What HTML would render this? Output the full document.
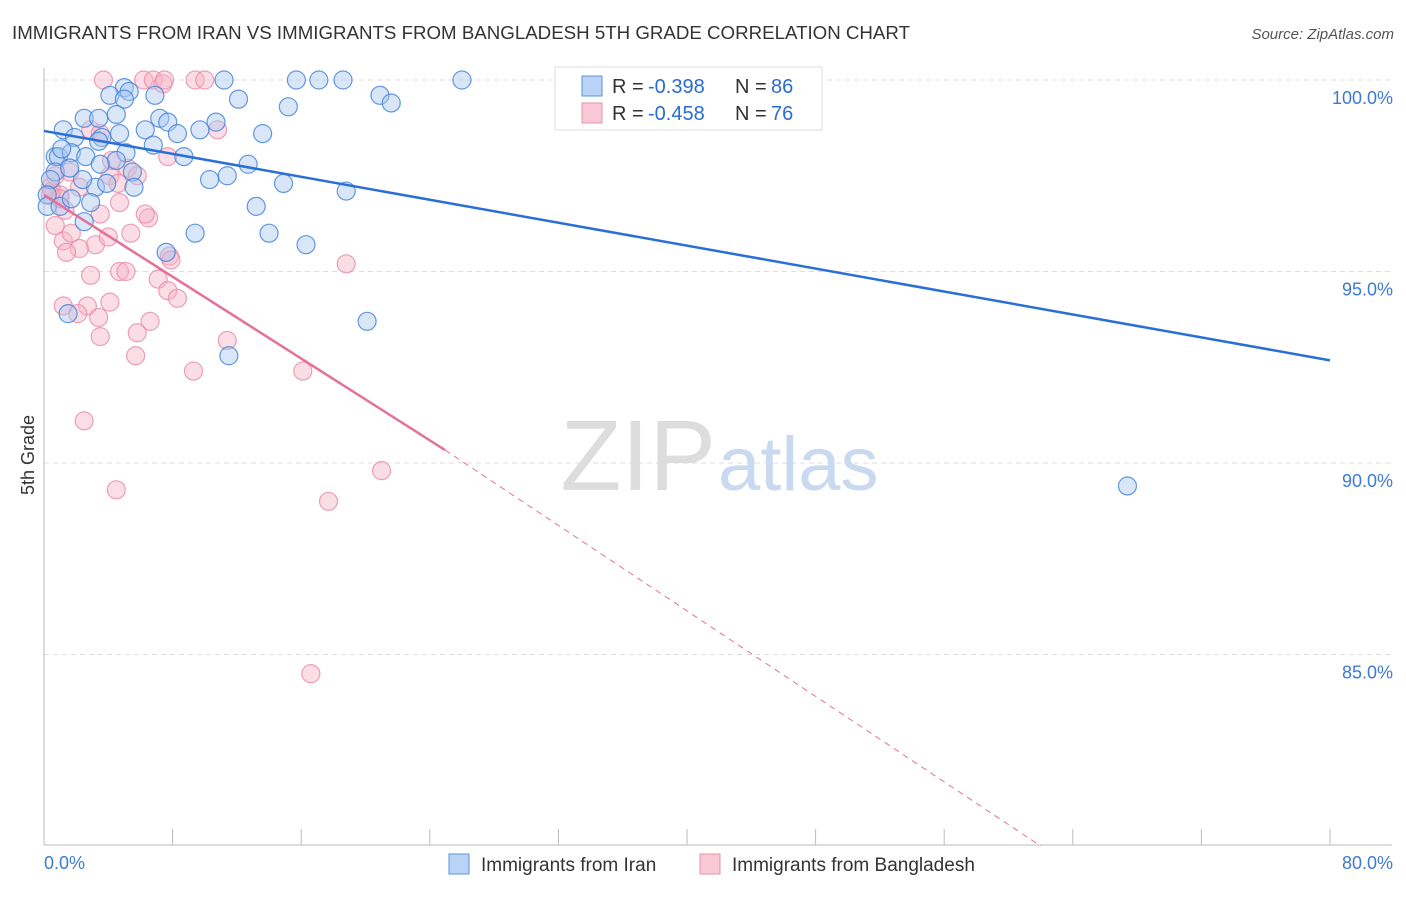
<!DOCTYPE html>
<html><head><meta charset="utf-8"><style>
body{margin:0;background:#fff;font-family:"Liberation Sans",sans-serif;}
svg text{font-family:"Liberation Sans",sans-serif;}
</style></head><body>
<svg width="1406" height="892" viewBox="0 0 1406 892">
<text x="12" y="39" font-size="18" fill="#333" textLength="898" lengthAdjust="spacingAndGlyphs">IMMIGRANTS FROM IRAN VS IMMIGRANTS FROM BANGLADESH 5TH GRADE CORRELATION CHART</text>
<text x="1394" y="39" font-size="15" fill="#555" text-anchor="end" font-style="italic">Source: ZipAtlas.com</text>
<g id="grid"></g>
<g id="axes"></g>
<text x="716" y="490" font-size="100" fill="#ddd" text-anchor="end" font-family="Liberation Serif">ZIP</text>
<text x="718" y="490" font-size="76" fill="#c9d9ef">atlas</text>
<g id="pts"></g>
<g id="trend"></g>
<text x="34" y="455" font-size="18" fill="#333" text-anchor="middle" transform="rotate(-90 34 455)">5th Grade</text>
<g>
<rect x="555" y="67" width="267" height="63" fill="#fff" stroke="#ddd"/>
<rect x="582" y="76" width="20" height="20" fill="#b8d3f5" stroke="#5b93dc"/>
<rect x="582" y="103" width="20" height="20" fill="#f9c8d6" stroke="#ea8fab"/>
<text x="612" y="93" font-size="20" fill="#333">R =</text><text x="648" y="93" font-size="20" fill="#2a6bd1">-0.398</text>
<text x="735" y="93" font-size="20" fill="#333">N =</text><text x="771" y="93" font-size="20" fill="#2a6bd1">86</text>
<text x="612" y="120" font-size="20" fill="#333">R =</text><text x="648" y="120" font-size="20" fill="#2a6bd1">-0.458</text>
<text x="735" y="120" font-size="20" fill="#333">N =</text><text x="771" y="120" font-size="20" fill="#2a6bd1">76</text>
</g>
<g>
<rect x="449" y="854" width="20" height="20" fill="#b8d3f5" stroke="#5b93dc"/>
<text x="481" y="871" font-size="19" fill="#333">Immigrants from Iran</text>
<rect x="700" y="854" width="20" height="20" fill="#f9c8d6" stroke="#ea8fab"/>
<text x="732" y="871" font-size="19" fill="#333">Immigrants from Bangladesh</text>
</g>
</svg>
<script>
const yTicks=[100,95,90,85];
const yTickLabels=["100.0%","95.0%","90.0%","85.0%"];
const xTickLabels=["0.0%","80.0%"];
const iranX=[11.2,15.7,17.1,18.6,26.0,5.0,5.3,4.1,5.0,6.9,12.1,15.2,20.9,21.6,2.5,3.4,4.5,7.2,7.7,10.7,1.2,6.3,8.3,9.7,13.6,1.9,3.6,4.7,3.4,0.7,0.9,1.7,2.6,5.1,6.8,8.7,12.7,4.5,0.7,5.5,10.3,11.4,14.9,18.8,3.2,5.6,3.9,2.9,13.2,2.5,9.4,14.0,16.3,7.6,1.5,20.1,11.5,67.4,0.4,0.2,0.2,1.0,1.7,2.4,1.1,1.6,3.5];
const iranY=[100,100,100,100,100,99.8,99.7,99.6,99.5,99.6,99.5,99.3,99.6,99.4,99.0,99.0,99.1,99.0,98.9,98.9,98.7,98.7,98.6,98.7,98.6,98.5,98.5,98.6,98.4,98.0,98.0,98.1,98.0,98.1,98.3,98.0,97.8,97.9,97.6,97.6,97.4,97.5,97.3,97.1,97.2,97.2,97.3,96.8,96.7,96.3,96.0,96.0,95.7,95.5,93.9,93.7,92.8,89.4,97.4,97.0,96.7,96.7,96.9,97.4,98.2,97.7,97.8];
const bdX=[3.7,6.2,6.8,7.4,9.4,10.0,7.5,2.9,10.8,3.5,7.7,0.4,0.5,0.7,1.0,1.6,2.2,1.3,3.5,4.1,4.6,5.2,5.8,4.2,4.7,6.5,6.3,0.7,1.2,1.7,3.2,4.0,5.4,2.2,1.4,2.9,1.2,2.7,4.7,5.1,7.1,7.8,7.9,7.7,8.3,4.1,3.4,2.1,6.6,5.8,3.5,11.4,5.7,9.3,16.1,18.8,2.5,4.5,21.0,17.7,16.6,1.0,0.4];
const bdY=[100,100,100,99.9,100,100,100,98.7,98.7,98.6,98.0,97.2,97.1,97.5,97.0,97.6,97.2,96.6,96.5,97.5,97.3,97.7,97.5,97.9,96.8,96.4,96.5,96.2,95.8,96.0,95.7,95.9,96.0,95.6,95.5,94.9,94.1,94.1,95.0,95.0,94.8,95.4,95.3,94.5,94.3,94.2,93.8,93.9,93.7,93.4,93.3,93.2,92.8,92.4,92.4,95.2,91.1,89.3,89.8,89.0,84.5,96.9,97.0];
const X0=44,X1=1330,Y100=80,PX5=191.5;
const sx=v=>X0+(v/80)*(X1-X0);
const sy=v=>Y100+(100-v)/5*PX5;
const NS="http://www.w3.org/2000/svg";
function mk(t,a,p){const e=document.createElementNS(NS,t);for(const k in a)e.setAttribute(k,a[k]);p.appendChild(e);return e;}
const grid=document.getElementById('grid'),axes=document.getElementById('axes');
yTicks.forEach((v,i)=>{
 const l=mk('line',{x1:X0,x2:1392,y1:sy(v),y2:sy(v),stroke:'#ddd','stroke-dasharray':'5,4'},grid);
 
 
 const t=mk('text',{x:1393,y:sy(v)+24,'font-size':18,fill:'#3d7ad6','text-anchor':'end'},axes);
 t.textContent=yTickLabels[i];
 
 
});
mk('line',{x1:X0,x2:X0,y1:68,y2:845,stroke:'#bbb'},axes);
mk('line',{x1:X0,x2:1392,y1:845,y2:845,stroke:'#bbb'},axes);
for(let i=0;i<=10;i++){const x=sx(i*8);mk('line',{x1:x,x2:x,y1:829,y2:845,stroke:'#bbb'},axes);}
[[0,'start',44],[80,'end',1393]].forEach((d,i)=>{
 const t=mk('text',{x:d[2],y:869,'font-size':18,fill:'#3d7ad6','text-anchor':d[1]},axes);
 t.textContent=xTickLabels[i];
 
 
});
const pts=document.getElementById('pts');
function dots(xs,ys,f,s,n){xs.forEach((x,i)=>{
 const c=mk('circle',{cx:sx(x),cy:sy(ys[i]),r:9,fill:f,'fill-opacity':0.45,stroke:s,'stroke-opacity':0.8,'stroke-width':1.2},pts);
 
 
});}
dots(bdX,bdY,'#f6b4c8','#e88aa8','bangladesh-point');
dots(iranX,iranY,'#a8c8f0','#3f80d8','iran-point');
const tr=document.getElementById('trend');
const blue=mk('line',{x1:sx(0),y1:sy(98.67),x2:sx(80),y2:sy(92.68),stroke:'#2a6fd6','stroke-width':2.5},tr);


const pk=mk('line',{x1:sx(0),y1:sy(97.0),x2:sx(24.94),y2:sy(90.34),stroke:'#e4719a','stroke-width':2.5},tr);


const pd=mk('line',{x1:sx(24.94),y1:sy(90.34),x2:sx(62.0),y2:sy(80.0),stroke:'#e4719a','stroke-width':1,'stroke-dasharray':'6,5'},tr);


</script>
</body></html>
